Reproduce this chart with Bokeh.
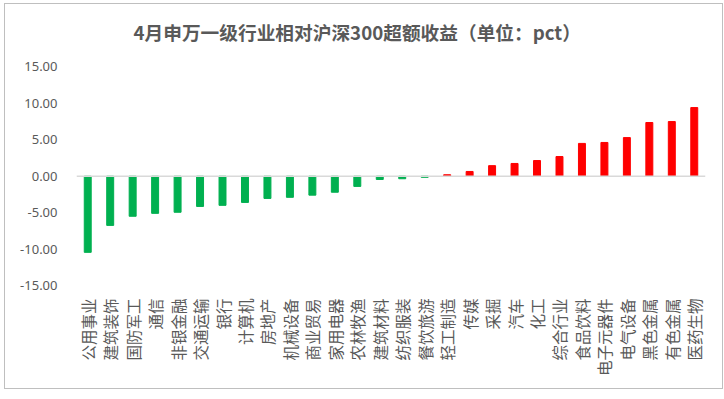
from bokeh.plotting import figure
from bokeh.models import FixedTicker, PrintfTickFormatter, Span, ColumnDataSource
from bokeh.core.properties import value
from bokeh.embed import file_html
from bokeh.resources import INLINE

categories = ["公用事业", "建筑装饰", "国防军工", "通信", "非银金融", "交通运输", "银行", "计算机",
              "房地产", "机械设备", "商业贸易", "家用电器", "农林牧渔", "建筑材料", "纺织服装",
              "餐饮旅游", "轻工制造", "传媒", "采掘", "汽车", "化工", "综合行业", "食品饮料",
              "电子元器件", "电气设备", "黑色金属", "有色金属", "医药生物"]
values = [-10.45, -6.75, -5.5, -5.1, -4.95, -4.15, -4.0, -3.6,
          -3.05, -2.9, -2.6, -2.2, -1.4, -0.45, -0.35,
          -0.15, 0.2, 0.65, 1.45, 1.75, 2.15, 2.7, 4.5,
          4.63, 5.3, 7.37, 7.5, 9.42]
y_ticks = [-15, -10, -5, 0, 5, 10, 15]
title_text = "4月申万一级行业相对沪深300超额收益（单位：pct）"

colors = ["#00B050" if v < 0 else "#FF0000" for v in values]
src = ColumnDataSource(dict(cat=categories, val=values, color=colors))

# frame extended upward so the title can sit inside it
p = figure(x_range=categories, y_range=(-15, 22.33), width=717, height=384,
           output_backend="svg", toolbar_location=None,
           min_border_left=71, min_border_right=17, min_border_top=9, min_border_bottom=103)
p.margin = (4, 0, 0, 5)
p.styles = {"outline": "1px solid #bfbfbf"}

p.vbar(x="cat", top="val", bottom=0, width=0.31, color="color", source=src)
p.add_layout(Span(location=0, dimension="width", line_color="#d9d9d9", line_width=1.5))

p.text(x=[categories[0]], y=[19.8], text=[title_text], x_offset=45.8,
       text_align="left", text_baseline="middle",
       text_font=value("Noto Sans CJK SC"), text_font_size="18.7px",
       text_font_style="bold", text_color="#595959")

p.outline_line_color = None
p.xgrid.grid_line_color = None
p.ygrid.grid_line_color = None

p.yaxis.ticker = FixedTicker(ticks=y_ticks)
p.yaxis.formatter = PrintfTickFormatter(format="%.2f")
p.yaxis.axis_line_color = None
p.yaxis.major_tick_line_color = None
p.yaxis.minor_tick_line_color = None
p.yaxis.major_tick_out = 0
p.yaxis.major_label_standoff = 19
p.yaxis.major_label_text_font = "Noto Sans"
p.yaxis.major_label_text_font_size = "13px"
p.yaxis.major_label_text_color = "#595959"

p.xaxis.axis_line_color = None
p.xaxis.major_tick_line_color = None
p.xaxis.minor_tick_line_color = None
p.xaxis.major_tick_out = 0
p.xaxis.major_label_orientation = 1.5708
p.xaxis.major_label_standoff = 13
p.xaxis.major_label_text_font = "Noto Sans CJK SC"
p.xaxis.major_label_text_font_size = "15.5px"
p.xaxis.major_label_text_color = "#595959"

open("out.html", "w").write(file_html(p, INLINE))
